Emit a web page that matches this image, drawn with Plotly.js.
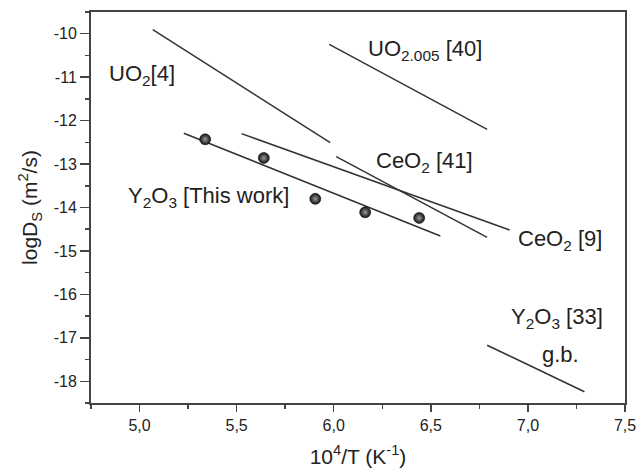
<!DOCTYPE html>
<html><head><meta charset="utf-8">
<script src="https://cdn.plot.ly/plotly-3.0.1.min.js"></script>
<style>body{margin:0;background:#fff}#chart{width:639px;height:474px}</style>
</head><body><div id="chart"></div>
<script>
// Measured points (Y2O3, this work)
const ptsX = [5.338, 5.640, 5.905, 6.162, 6.440];
const ptsY = [-12.43, -12.86, -13.80, -14.11, -14.24];
// Literature lines (endpoints)
const uo2X = [5.068, 5.982], uo2Y = [-9.907, -12.508];
const uo2005X = [5.977, 6.790], uo2005Y = [-10.244, -12.20];
const y2o3X = [5.228, 6.549], y2o3Y = [-12.29, -14.655];
const ceo2_9X = [5.525, 6.906], ceo2_9Y = [-12.30, -14.517];
const ceo2_41X = [6.013, 6.790], ceo2_41Y = [-12.83, -14.686];
const y2o3gbX = [6.790, 7.291], y2o3gbY = [-17.17, -18.24];
// Tick labels
const yTickVals = [-10, -11, -12, -13, -14, -15, -16, -17, -18];
const yTickText = ['-10', '-11', '-12', '-13', '-14', '-15', '-16', '-17', '-18'];
const xTickVals = [5.0, 5.5, 6.0, 6.5, 7.0, 7.5];
const xTickText = ['5,0', '5,5', '6,0', '6,5', '7,0', '7,5'];

const lineStyle = {color:'#333', width:1.5};
function ln(x,y){return {x:x,y:y,mode:'lines',line:lineStyle,hoverinfo:'skip',showlegend:false};}
const traces = [
  ln(uo2X,uo2Y), ln(uo2005X,uo2005Y), ln(y2o3X,y2o3Y),
  ln(ceo2_9X,ceo2_9Y), ln(ceo2_41X,ceo2_41Y), ln(y2o3gbX,y2o3gbY),
  {x:ptsX,y:ptsY,mode:'markers',showlegend:false,
   marker:{size:11,color:'#111',gradient:{type:'radial',color:'#9a9a9a'},line:{width:0.6,color:'#111'}}}
];
const FF = 'Liberation Sans, Arial, sans-serif';
const F = {family:FF, size:22, color:'#222'};
function ann(t,x,y){return {text:t,x:x,y:y,xref:'x',yref:'y',showarrow:false,font:F};}
const layout = {
  width:639,height:474,
  margin:{l:91,r:14,t:12,b:71},
  paper_bgcolor:'#fff',plot_bgcolor:'#fff',
  showlegend:false,
  xaxis:{range:[4.75,7.5],tickmode:'array',tickvals:xTickVals,ticktext:xTickText,ticks:'outside',ticklen:7,tickwidth:1.5,tickcolor:'#444',
    showgrid:false,zeroline:false,showline:true,linecolor:'#444',linewidth:2,mirror:true,
    minor:{tickmode:'linear',tick0:4.75,dtick:0.25,ticks:'outside',ticklen:4,tickcolor:'#444',showgrid:false},
    tickfont:{family:FF,size:16,color:'#222'},
    title:{text:'10<sup>4</sup>/T (K<sup>-1</sup>)',font:{family:FF,size:21,color:'#222'},standoff:16}},
  yaxis:{range:[-18.5,-9.5],tickmode:'array',tickvals:yTickVals,ticktext:yTickText,ticks:'outside',ticklen:9,tickwidth:1.5,tickcolor:'#444',
    showgrid:false,zeroline:false,showline:true,linecolor:'#444',linewidth:2,mirror:true,
    minor:{tickmode:'linear',tick0:-9.5,dtick:0.5,ticks:'outside',ticklen:4,tickcolor:'#444',showgrid:false},
    tickfont:{family:FF,size:16,color:'#222'},
    title:{text:'logD<sub>S</sub> (m<sup>2</sup>/s)',font:{family:FF,size:21,color:'#222'},standoff:10}},
  annotations:[
    ann('UO<sub>2</sub>[4]',5.013,-10.95),
    ann('UO<sub>2.005</sub> [40]',6.472,-10.375),
    ann('CeO<sub>2</sub> [41]',6.466,-12.95),
    ann('Y<sub>2</sub>O<sub>3</sub> [This work]',5.353,-13.76),
    ann('CeO<sub>2</sub> [9]',7.167,-14.75),
    ann('Y<sub>2</sub>O<sub>3</sub> [33]',7.152,-16.54),
    ann('g.b.',7.167,-17.39)
  ]
};
Plotly.newPlot('chart',traces,layout,{displayModeBar:false,staticPlot:true});
</script></body></html>
